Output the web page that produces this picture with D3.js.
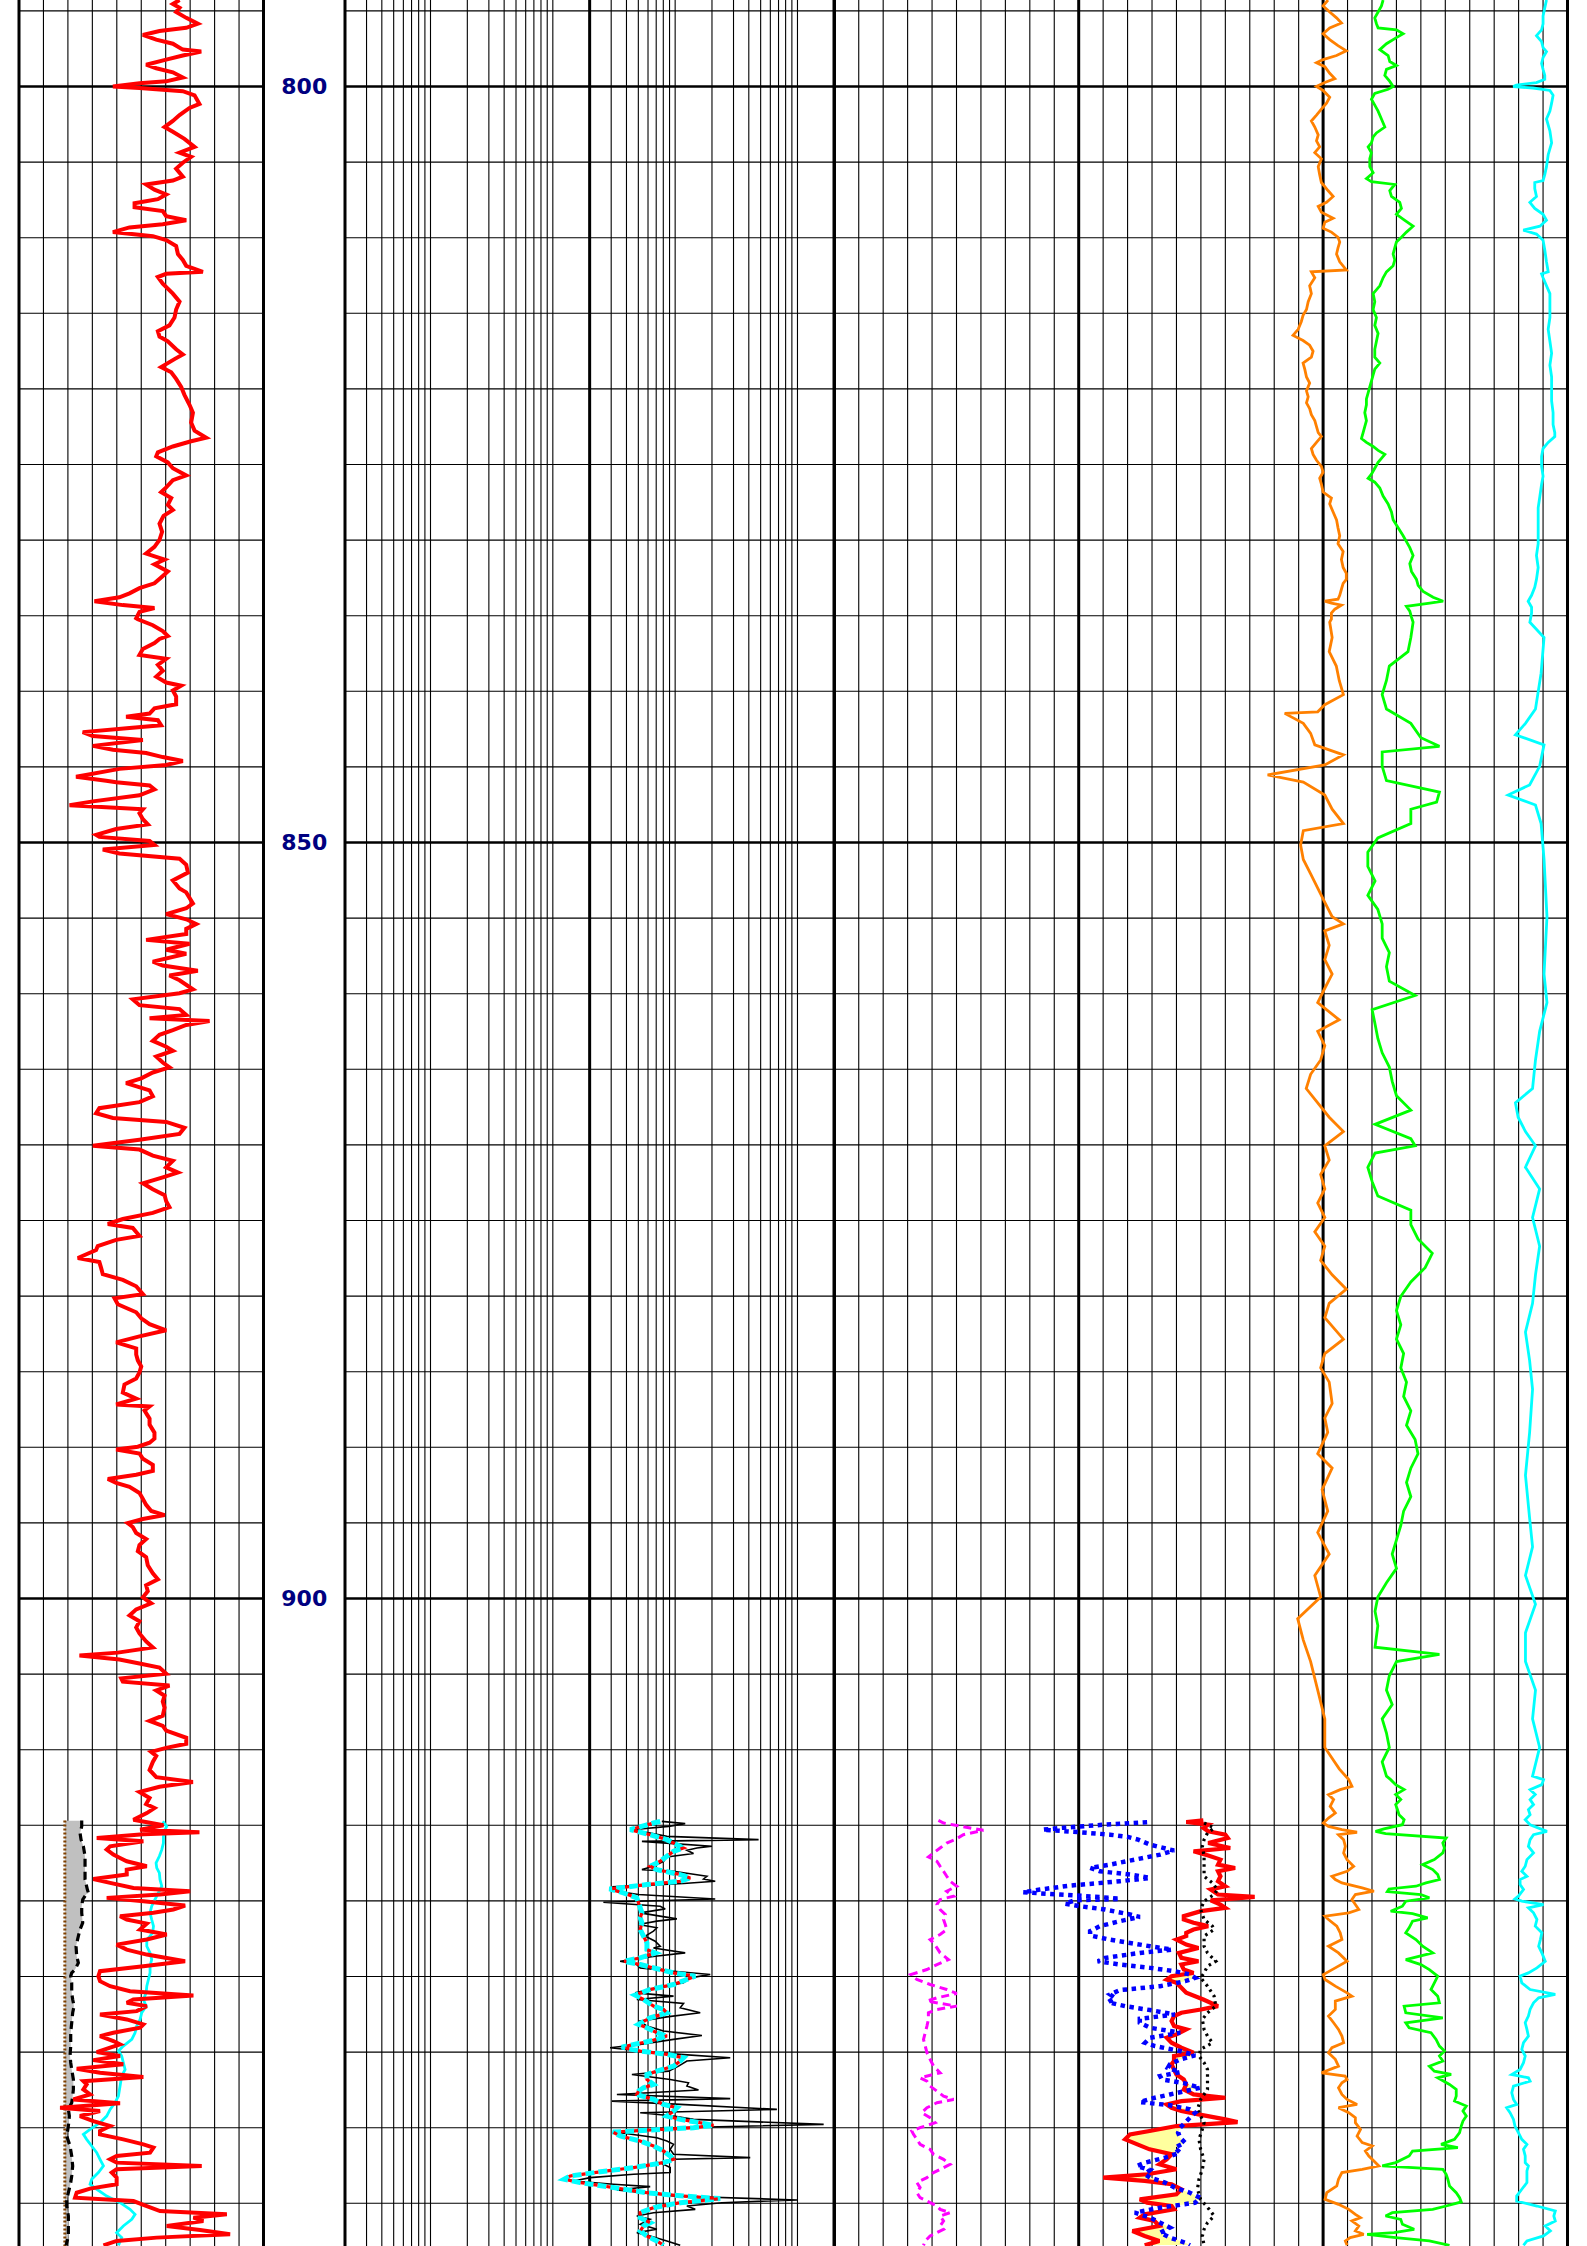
<!DOCTYPE html>
<html><head><meta charset="utf-8">
<script src="https://cdn.jsdelivr.net/npm/d3@7"></script>
<style>html,body{margin:0;padding:0;background:#fff;} svg{display:block;}</style>
</head><body><svg id="c" width="1587" height="2246"></svg>
<script>
// ---------------- DATA (depth m, value) ----------------
const depthLabels = [800, 850, 900];
// Track 1: gamma ray (API)
const grData = [[794.28,98.5],[794.54,94.4],[794.80,98.5],[795.07,96.4],[795.46,102.6],[795.85,109.7],[796.12,102.6],[796.33,86.2],[796.59,76.0],[796.90,84.2],[797.17,94.4],[797.56,100.5],[797.69,111.8],[797.95,100.5],[798.22,90.3],[798.56,78.0],[798.79,84.2],[799.06,94.4],[799.40,100.5],[799.66,90.3],[799.79,73.9],[800.00,57.6],[800.10,73.9],[800.31,100.5],[800.58,107.7],[801.15,110.7],[801.42,104.6],[801.89,98.5],[802.28,94.4],[802.68,89.3],[802.99,94.4],[803.46,101.5],[803.99,107.7],[804.38,98.5],[804.65,105.6],[805.04,100.5],[805.43,96.4],[805.96,100.5],[806.22,94.4],[806.48,78.0],[806.82,83.1],[807.14,90.3],[807.45,85.2],[807.72,70.9],[807.98,70.9],[808.24,88.2],[808.58,90.3],[808.85,102.6],[809.11,88.2],[809.32,67.8],[809.63,57.6],[809.90,82.1],[810.16,90.3],[810.55,96.4],[811.08,97.5],[811.47,100.5],[811.86,102.6],[812.26,112.8],[812.39,90.3],[812.60,85.2],[813.04,88.2],[813.70,94.4],[814.23,98.5],[814.75,96.4],[815.28,95.4],[815.80,92.3],[816.19,85.2],[816.54,86.2],[816.85,91.3],[817.38,96.4],[817.72,100.5],[818.03,95.4],[818.56,87.2],[818.90,93.4],[819.34,96.4],[819.87,99.5],[820.39,101.5],[821.05,104.6],[821.57,106.7],[822.23,105.6],[822.76,107.7],[823.23,114.8],[823.46,105.6],[823.81,94.4],[824.20,85.2],[824.46,84.2],[824.86,91.3],[825.25,94.4],[825.72,102.6],[826.04,94.4],[826.51,90.3],[826.83,87.2],[827.22,93.4],[827.67,91.3],[828.01,94.4],[828.40,88.7],[828.92,86.2],[829.45,87.8],[829.98,86.2],[830.45,83.1],[830.89,78.0],[831.29,89.3],[831.60,83.1],[832.07,91.3],[832.47,87.2],[832.86,83.1],[833.18,73.9],[833.52,67.8],[833.78,61.6],[834.04,46.3],[834.30,63.7],[834.49,83.1],[834.75,73.9],[835.17,71.9],
[835.24,72.9],[835.63,82.1],[836.02,88.2],[836.34,91.3],[836.54,86.2],[836.81,83.1],[837.20,76.0],[837.59,73.9],[837.85,90.3],[838.25,85.2],[838.64,88.2],[839.03,84.2],[839.42,90.3],[839.63,99.5],[839.95,94.4],[840.34,96.4],[840.86,96.4],[841.13,83.1],[841.47,80.1],[841.68,65.7],[841.91,85.2],[842.25,87.2],[842.43,67.8],[842.70,39.1],[842.96,45.3],[843.22,76.0],[843.61,45.3],[843.87,57.6],[844.08,78.0],[844.35,88.2],[844.61,100.5],[844.87,90.3],[845.13,61.6],[845.65,35.0],[845.92,53.5],[846.02,59.6],[846.23,80.1],[846.49,83.1],[846.88,73.9],[847.28,45.3],[847.54,31.0],[847.80,76.0],[848.06,73.9],[848.46,76.0],[848.80,79.0],[849.11,59.6],[849.50,47.3],[849.63,49.3],[849.90,80.1],[850.16,83.1],[850.47,51.4],[850.73,61.6],[851.07,98.5],[851.47,102.6],[851.99,103.6],[852.51,94.4],[853.04,98.5],[853.30,102.6],[854.03,106.7],[854.35,102.6],[854.74,90.3],[855.08,102.6],[855.39,108.7],[855.71,102.6],[856.05,102.6],[856.44,78.0],[856.70,104.6],[857.09,90.3],[857.36,102.6],[857.88,82.1],[858.14,88.2],[858.48,109.7],[858.80,92.3],[859.11,98.5],[859.71,106.7],[859.97,98.5],[860.37,69.8],[860.76,73.9],[861.02,98.5],[861.41,102.6],[861.62,80.1],[861.81,116.9],[862.07,102.6],[862.41,94.4],[862.72,86.2],[863.12,82.1],[863.51,90.3],[863.77,94.4],[864.16,84.2],[864.55,88.2],[864.87,92.3],[865.21,82.1],[865.60,75.0],[865.92,65.7],[866.39,80.1],[866.78,82.1],[867.17,73.9],[867.57,49.3],[867.91,47.3],[868.22,57.6],[868.48,90.3],[868.87,101.5],[869.27,98.5],[869.66,73.9],[870.05,45.3],[870.31,73.9],[870.71,82.1],[871.05,94.4],[871.49,90.3],[871.83,97.5],[872.15,88.2],[872.54,76.0],[872.93,82.1],[873.32,89.3],[873.72,90.3],[874.11,92.3],[874.50,82.1],[874.90,63.7],
[875.23,54.5],[875.49,69.8],[875.76,71.9],[876.02,73.9],[876.28,59.6],[876.69,48.3],[876.95,47.3],[877.48,36.1],[877.75,49.3],[878.15,50.4],[878.55,51.4],[878.93,63.7],[879.35,71.9],[879.87,76.0],[880.14,58.6],[880.54,60.6],[881.07,71.9],[881.47,75.0],[881.86,80.1],[882.26,90.3],[882.66,73.9],[883.06,59.6],[883.46,71.9],[883.86,71.9],[884.25,72.9],[884.65,75.0],[885.05,73.9],[885.45,71.9],[885.85,64.7],[886.38,63.7],[886.78,71.9],[887.17,59.6],[887.30,80.1],[887.57,77.0],[888.10,80.1],[888.50,80.1],[889.03,83.1],[889.43,83.1],[889.70,80.1],[889.96,72.9],[890.15,59.6],[890.41,73.9],[890.76,76.0],[891.16,82.1],[891.56,82.1],[891.82,71.9],[892.09,54.5],[892.35,59.6],[892.62,67.8],[893.02,73.9],[893.41,76.0],[893.81,78.0],[894.21,81.1],[894.48,89.3],[894.74,76.0],[895.01,66.7],[895.27,69.8],[895.67,71.9],[896.07,78.0],[896.47,73.9],[896.87,72.9],[897.27,78.0],[897.80,79.0],[898.33,82.1],[898.73,85.2],[899.12,78.0],[899.52,79.0],[899.92,76.0],[900.32,81.1],[900.72,71.9],[901.12,67.8],[901.51,73.9],[901.91,71.9],[902.31,73.9],[902.84,78.0],[903.24,82.1],[903.58,60.6],[903.77,37.1],[904.04,61.6],[904.30,73.9],[904.57,86.2],[904.97,90.3],[905.28,62.7],[905.50,63.7],[905.76,92.3],[906.08,84.2],[906.43,89.3],[906.82,88.2],[907.22,89.3],[907.75,88.2],[908.10,80.1],[908.42,88.2],[908.74,90.3],[909.21,102.6],[909.61,102.6],[909.88,90.3],[910.14,81.1],[910.41,84.2],[910.81,82.1],[911.34,80.1],[911.82,84.2],[912.13,106.7],[912.45,86.2],[912.80,73.9],[913.20,80.1],[913.60,78.0],[913.86,83.1],
[914.19,78.4],[914.63,70.2],[915.00,88.6],[915.30,74.3],[915.46,110.7],[915.60,76.3],[915.84,47.7],[916.06,76.3],[916.39,55.9],[916.60,53.8],[916.94,57.9],[917.16,62.0],[917.38,66.1],[917.71,78.4],[917.93,66.1],[918.26,66.1],[918.55,45.6],[918.81,55.9],[919.14,70.2],[919.36,105.0],[919.58,86.5],[919.80,53.8],[920.02,76.3],[920.31,101.9],[920.57,94.7],[920.79,82.5],[921.01,62.0],[921.23,66.1],[921.50,78.4],[921.89,74.3],[922.22,90.6],[922.55,78.4],[922.89,59.9],[923.22,66.1],[923.55,78.4],[923.99,101.9],[924.32,76.3],[924.65,49.7],[924.98,48.7],[925.31,49.7],[925.64,55.9],[925.97,68.1],[926.26,107.0],[926.52,70.2],[926.74,66.1],[926.96,78.4],[927.29,72.2],[927.51,49.7],[927.84,66.1],[928.17,76.3],[928.39,74.3],[928.72,57.9],[928.94,49.7],[929.27,57.9],[929.49,62.0],[929.71,55.9],[930.00,47.7],[930.26,62.0],[930.53,45.6],[930.81,64.0],[931.10,35.4],[931.37,49.7],[931.65,76.3],[931.92,39.5],[932.14,41.5],[932.47,39.5],[932.80,43.6],[933.13,33.3],[933.39,62.0],[933.68,25.2],[933.90,49.7],[934.23,37.4],[934.56,45.6],[934.89,55.9],[935.22,49.7],[935.44,49.7],[935.77,64.0],[936.10,76.3],[936.32,82.5],[936.65,80.4],[936.87,59.9],[937.09,55.9],[937.31,59.9],[937.53,112.1],[937.75,59.9],[937.97,56.9],[938.30,59.9],[938.74,59.9],[939.03,43.6],[939.30,35.4],[939.63,34.4],[939.85,70.2],[940.18,78.4],[940.51,86.5],[940.73,127.5],[940.95,107.0],[941.17,113.1],[941.50,90.6],[941.76,111.1],[942.05,129.5],[942.27,84.5],[942.49,59.9],[942.78,51.8]];
// Track 1: bit size and caliper (in)
const bsData = [[914.69,7.875],[942.82,7.875]];
const caliData = [[914.69,8.565],[915.07,8.565],[915.51,8.497],[915.95,8.538],[916.39,8.633],[917.05,8.701],[917.71,8.701],[918.59,8.701],[919.25,8.797],[919.47,8.838],[919.58,8.742],[919.91,8.606],[920.35,8.565],[920.79,8.565],[921.45,8.606],[921.89,8.497],[922.33,8.428],[923.00,8.333],[923.66,8.360],[924.10,8.428],[924.54,8.292],[924.76,8.156],[924.98,8.115],[925.42,8.156],[926.08,8.156],[926.52,8.196],[926.96,8.251],[927.40,8.196],[928.06,8.156],[928.72,8.115],[929.60,8.115],[930.26,8.087],[930.70,8.115],[931.15,8.156],[931.81,8.224],[932.47,8.224],[932.91,8.196],[933.35,8.156],[933.79,8.019],[934.23,8.060],[934.89,8.019],[935.55,7.951],[936.21,8.087],[936.87,8.156],[937.53,8.196],[938.19,8.156],[938.63,8.115],[939.30,8.019],[939.74,7.951],[940.18,7.951],[940.84,8.019],[941.50,8.019],[942.16,8.019],[942.78,7.924]];
// Track 1: computed gamma ray (API)
const cgrData = [[914.74,88.2],[915.07,90.6],[915.29,89.6],[915.73,88.6],[916.17,88.6],[916.61,87.6],[917.05,86.1],[917.49,84.1],[917.82,84.5],[918.15,86.1],[918.59,86.5],[919.03,87.6],[919.47,85.5],[919.69,84.5],[920.02,82.9],[920.35,81.4],[920.79,80.4],[921.23,81.4],[921.67,82.5],[922.11,82.0],[922.33,80.4],[922.56,78.4],[923.00,78.4],[923.44,80.4],[923.88,81.4],[924.32,80.4],[924.76,80.4],[925.20,79.4],[925.64,78.4],[926.08,78.0],[926.52,76.3],[926.96,78.0],[927.40,75.3],[927.84,74.3],[928.28,72.2],[928.72,71.2],[929.16,69.2],[929.60,64.0],[929.93,61.0],[930.26,63.0],[930.70,64.0],[931.15,65.1],[931.59,63.0],[932.25,62.0],[932.91,61.0],[933.35,58.9],[933.79,55.9],[934.23,53.8],[934.67,49.7],[935.11,43.6],[935.44,39.5],[935.77,41.5],[936.21,44.6],[936.65,47.7],[937.09,49.7],[937.53,51.8],[937.97,48.7],[938.41,44.6],[938.74,43.6],[939.07,47.7],[939.52,53.8],[939.96,62.0],[940.40,68.1],[940.73,71.2],[941.06,69.2],[941.50,64.0],[941.94,59.9],[942.27,63.0],[942.78,61.0]];
// Track 2: resistivity (ohm.m) - deep/medium (overlapping) and micro
const resDeep = [[914.74,75.5],[914.85,66.5],[915.29,42.9],[915.62,62.5],[915.95,85.6],[916.28,103.3],[916.50,117.1],[916.72,97],[917.05,85.6],[917.38,75.5],[917.71,62.5],[917.93,70.9],[918.26,110],[918.48,132.7],[918.70,110],[918.92,58.8],[919.21,29.0],[919.47,37.8],[919.80,48.6],[920.13,50.2],[920.46,51.8],[920.79,53.5],[921.12,51.8],[921.45,53.5],[921.89,51.8],[922.33,55.1],[922.78,58.8],[923.22,58.8],[923.44,68.7],[923.77,51.8],[923.99,38.3],[924.21,51.8],[924.54,75.5],[924.76,97],[924.98,145.9],[925.20,124.7],[925.53,97],[925.86,62.5],[926.23,47.1],[926.52,55.1],[926.96,66.5],[927.18,80.4],[927.40,85.6],[927.73,62.5],[928.17,50.2],[928.39,58.8],[928.72,70.9],[928.94,85.6],[929.27,62.5],[929.67,36.6],[929.93,51.8],[930.15,85.6],[930.37,117.1],[930.59,110],[930.93,97],[931.26,70.9],[931.48,58.8],[931.81,58.8],[932.14,66.5],[932.36,55.1],[932.58,50.2],[932.80,48.6],[933.13,66.5],[933.46,80.4],[933.68,103.3],[933.90,97],[934.23,85.6],[934.45,110],[934.67,160.3],[934.85,205.8],[935.00,141.3],[935.29,31.0],[935.55,35.5],[935.88,51.8],[936.21,66.5],[936.54,80.4],[936.87,91.1],[937.09,97],[937.31,80.4],[937.64,45.7],[937.86,27.6],[938.19,13.9],[938.41,12.4],[938.63,16.7],[938.96,31.3],[939.30,58.8],[939.52,117.1],[939.69,233.6],[939.96,110],[940.29,66.5],[940.62,51.8],[940.95,51.8],[941.28,62.5],[941.50,55.1],[941.83,51.8],[942.16,58.8],[942.49,70.9],[942.78,80.4]];
const resMicro = [[914.74,77.8],[914.89,120.8],[915.07,88.3],[915.29,44.3],[915.51,62.5],[915.73,85.6],[915.95,481],[916.06,53.5],[916.21,97],[916.39,199.8],[916.50,150.7],[916.65,124.7],[916.87,141.3],[917.09,85.6],[917.38,80.4],[917.71,66.5],[917.93,53.5],[918.04,97],[918.37,181.9],[918.55,170.6],[918.70,212.6],[918.85,117.1],[919.07,31.3],[919.36,33.4],[919.58,50.2],[919.87,212.6],[920.09,25.9],[920.35,75.5],[920.53,82.9],[920.79,51.8],[921.19,103.3],[921.34,70.9],[921.56,50.2],[921.78,70.9],[922.00,66.5],[922.33,57.0],[922.67,68.7],[923.00,75.5],[923.11,66.5],[923.44,120.8],[923.66,68.7],[923.99,35.5],[924.21,48.6],[924.43,51.8],[924.65,97],[924.87,193.6],[925.09,132.7],[925.42,117.1],[925.75,70.9],[926.08,47.1],[926.30,97],[926.52,48.6],[926.78,117.1],[927.07,110],[927.40,160.3],[927.67,85.6],[927.95,51.8],[928.28,58.8],[928.61,80.4],[928.90,165.5],[929.16,97],[929.49,51.8],[929.71,29.4],[929.93,51.8],[930.15,110],[930.37,282],[930.59,124.7],[930.93,106.6],[931.26,88.3],[931.48,44.3],[931.81,91.1],[932.03,128.6],[932.25,124.7],[932.51,155.2],[932.80,33.4],[933.08,282],[933.24,30.4],[933.46,110],[933.79,679],[934.01,51.8],[934.23,97],[934.45,141.3],[934.78,1637],[935.00,97],[935.33,35.5],[935.66,70.9],[935.88,85.6],[936.10,97],[936.43,91.1],[936.76,97],[936.98,411],[937.09,97],[937.31,75.5],[937.64,91.1],[937.97,91.1],[938.08,45.7],[938.30,20.2],[938.52,14.8],[938.74,31.3],[938.90,62.5],[939.12,33.4],[939.52,97],[939.78,991],[939.96,241.1],[940.18,124.7],[940.40,145.9],[940.62,66.5],[940.84,48.6],[941.06,62.5],[941.39,51.8],[941.72,70.9],[941.94,48.6],[942.16,62.5],[942.49,85.6],[942.78,110]];
// Track 3 / section 1: sonic (us/ft)
const dtData = [[914.67,97.4],[914.85,95.3],[915.18,84.4],[915.33,79.0],[915.62,87.2],[915.95,90.6],[916.17,94.0],[916.50,96.7],[916.83,99.4],[917.09,101.5],[917.38,98.0],[917.71,96.7],[918.04,95.3],[918.37,94.0],[918.70,92.6],[919.03,89.9],[919.36,94.0],[919.69,91.2],[919.91,96.7],[920.24,98.0],[920.57,96.7],[920.90,94.6],[921.23,95.3],[921.56,94.6],[921.89,94.0],[922.22,96.7],[922.56,100.8],[922.78,99.4],[923.11,98.0],[923.44,96.7],[923.88,93.3],[924.21,98.0],[924.54,102.1],[924.87,108.7],[925.20,106.2],[925.53,100.8],[925.86,94.0],[926.12,89.9],[926.41,98.0],[926.63,102.1],[926.96,89.9],[927.18,98.0],[927.40,101.5],[927.84,101.5],[928.28,102.1],[928.72,102.8],[929.16,103.5],[929.60,102.8],[930.04,102.1],[930.48,100.8],[930.93,99.4],[931.37,96.7],[931.70,104.9],[931.92,102.1],[932.25,100.8],[932.58,98.0],[932.91,95.3],[933.13,91.2],[933.35,98.0],[933.68,102.1],[934.01,104.2],[934.34,100.8],[934.67,98.7],[935.00,104.9],[935.22,108.3],[935.44,107.6],[935.77,106.2],[936.10,104.9],[936.43,100.8],[936.76,99.4],[937.09,95.3],[937.42,92.6],[937.64,95.3],[937.97,99.4],[938.30,102.1],[938.63,106.2],[938.96,104.9],[939.30,106.2],[939.63,104.9],[939.85,102.1],[940.18,98.0],[940.40,96.7],[940.62,92.6],[940.84,96.7],[941.17,95.3],[941.50,96.7],[941.72,95.3],[941.94,98.0],[942.16,100.8],[942.49,102.8],[942.78,103.5]];
// Track 3 / section 2: neutron porosity (v/v), bulk density (g/cc), photoelectric factor
const nphiData = [[914.80,0.282],[914.98,0.398],[915.18,0.496],[915.29,0.538],[915.46,0.447],[915.62,0.373],[915.77,0.329],[915.95,0.304],[916.28,0.275],[916.67,0.216],[916.94,0.250],[917.27,0.312],[917.60,0.373],[917.82,0.422],[918.04,0.398],[918.26,0.324],[918.48,0.275],[918.70,0.349],[918.99,0.471],[919.25,0.545],[919.43,0.587],[919.58,0.496],[919.74,0.398],[919.87,0.349],[919.96,0.459],[920.18,0.484],[920.35,0.447],[920.57,0.385],[920.90,0.324],[921.06,0.300],[921.34,0.349],[921.67,0.398],[922.00,0.422],[922.29,0.422],[922.56,0.373],[922.78,0.324],[923.00,0.275],[923.22,0.221],[923.44,0.300],[923.77,0.385],[923.99,0.403],[924.21,0.349],[924.43,0.275],[924.65,0.214],[924.87,0.177],[925.09,0.164],[925.31,0.189],[925.64,0.250],[925.90,0.349],[926.19,0.373],[926.41,0.361],[926.70,0.378],[926.96,0.336],[927.22,0.275],[927.51,0.214],[927.80,0.300],[928.06,0.300],[928.39,0.275],[928.72,0.201],[929.05,0.275],[929.38,0.287],[929.60,0.263],[929.93,0.201],[930.22,0.164],[930.48,0.201],[930.81,0.226],[931.04,0.231],[931.32,0.201],[931.59,0.250],[931.81,0.246],[932.07,0.189],[932.36,0.152],[932.58,0.189],[932.80,0.226],[933.02,0.263],[933.30,0.300],[933.52,0.226],[933.79,0.177],[934.01,0.164],[934.34,0.177],[934.67,0.189],[935.00,0.201],[935.33,0.206],[935.66,0.201],[935.99,0.189],[936.32,0.214],[936.65,0.201],[936.98,0.238],[937.31,0.287],[937.53,0.307],[937.80,0.275],[938.08,0.287],[938.30,0.275],[938.63,0.238],[938.96,0.214],[939.30,0.177],[939.63,0.152],[939.96,0.164],[940.29,0.250],[940.62,0.312],[940.95,0.275],[941.28,0.250],[941.61,0.226],[941.94,0.250],[942.27,0.226],[942.60,0.189],[942.78,0.177]];
const rhobData = [[914.67,2.46],[914.78,2.39],[914.96,2.48],[915.18,2.46],[915.40,2.48],[915.62,2.55],[915.84,2.56],[916.17,2.48],[916.50,2.57],[916.72,2.42],[917.00,2.48],[917.27,2.53],[917.60,2.52],[917.82,2.59],[918.04,2.52],[918.37,2.53],[918.70,2.52],[919.03,2.55],[919.25,2.49],[919.58,2.52],[919.74,2.67],[919.96,2.49],[920.24,2.53],[920.46,2.55],[920.68,2.45],[921.01,2.38],[921.23,2.38],[921.45,2.42],[921.67,2.48],[921.89,2.42],[922.11,2.39],[922.33,2.39],[922.56,2.35],[922.89,2.39],[923.11,2.44],[923.44,2.36],[923.77,2.37],[923.99,2.44],[924.21,2.37],[924.54,2.38],[924.76,2.42],[924.98,2.33],[925.20,2.31],[925.42,2.35],[925.75,2.37],[926.08,2.39],[926.52,2.46],[926.96,2.52],[927.18,2.45],[927.40,2.37],[927.62,2.34],[927.95,2.33],[928.28,2.34],[928.50,2.39],[928.83,2.35],[929.05,2.31],[929.38,2.33],[929.71,2.37],[930.04,2.42],[930.26,2.34],[930.59,2.34],[930.81,2.33],[931.15,2.34],[931.48,2.35],[931.81,2.38],[932.14,2.39],[932.47,2.38],[932.80,2.42],[933.02,2.55],[933.24,2.37],[933.46,2.31],[933.68,2.33],[933.90,2.37],[934.12,2.44],[934.45,2.55],[934.63,2.60],[934.89,2.35],[935.22,2.24],[935.44,2.16],[935.77,2.14],[936.10,2.19],[936.43,2.24],[936.76,2.33],[937.09,2.31],[937.42,2.28],[937.75,2.35],[938.08,2.23],[938.30,2.05],[938.52,2.22],[938.74,2.33],[939.07,2.37],[939.41,2.35],[939.74,2.20],[939.96,2.23],[940.18,2.33],[940.40,2.34],[940.73,2.22],[940.95,2.20],[941.17,2.26],[941.50,2.28],[941.83,2.17],[942.16,2.22],[942.49,2.28],[942.78,2.22]];
const peData = [[914.85,5.13],[915.18,5.54],[915.51,5.27],[915.95,5.13],[916.39,5.06],[917.05,5.13],[917.71,5.13],[918.37,5.13],[918.81,5.47],[919.25,5.68],[919.58,5.54],[920.02,5.13],[920.57,4.99],[921.23,5.13],[921.67,5.47],[921.89,5.54],[922.33,5.13],[923.00,5.13],[923.44,5.27],[923.99,5.61],[924.32,5.27],[924.76,5.13],[925.09,4.99],[925.64,5.27],[926.30,5.54],[926.96,5.61],[927.40,5.27],[927.84,5.06],[928.50,5.13],[928.94,5.27],[929.38,5.47],[929.82,4.99],[930.26,4.92],[930.70,5.13],[931.15,5.27],[931.81,5.27],[932.47,5.27],[933.13,4.99],[933.79,4.86],[934.23,4.99],[934.67,5.13],[935.11,5.06],[935.77,4.92],[936.43,4.99],[937.09,5.13],[937.75,5.06],[938.41,4.92],[939.07,4.86],[939.74,4.99],[940.40,5.34],[940.84,5.54],[941.28,5.27],[941.72,5.13],[942.16,5.06],[942.78,5.13]];
// Track 3 / section 3: SP (mV), thorium (ppm), uranium (ppm)
const spData = [[794.28,-98.0],[794.67,-100.0],[795.07,-97.3],[795.46,-94.5],[795.80,-92.5],[796.12,-97.3],[796.51,-100.0],[796.90,-97.3],[797.30,-93.9],[797.64,-90.5],[797.95,-94.5],[798.22,-100.0],[798.43,-102.7],[798.69,-99.3],[799.13,-97.3],[799.48,-95.2],[799.74,-99.3],[800.00,-102.7],[800.26,-100.0],[800.71,-97.3],[801.10,-98.6],[801.50,-100.7],[801.89,-102.7],[802.28,-104.8],[802.68,-103.4],[803.20,-102.0],[803.60,-102.7],[803.99,-101.4],[804.38,-103.4],[804.78,-100.7],[805.30,-102.0],[805.83,-101.4],[806.35,-100.7],[806.88,-98.0],[807.27,-95.9],[807.66,-98.6],[807.93,-102.0],[808.32,-100.7],[808.71,-95.9],[808.98,-99.3],[809.37,-100.0],[809.63,-96.6],[809.97,-93.9],[810.29,-93.2],[810.68,-93.9],[811.08,-94.5],[811.60,-93.2],[812.13,-90.5],[812.26,-104.8],[812.65,-103.4],[813.18,-105.5],[813.70,-104.8],[814.23,-106.1],[814.75,-106.8],[815.14,-108.2],[815.54,-108.9],[816.06,-110.2],[816.46,-112.3],[816.80,-108.2],[817.11,-105.5],[817.51,-104.1],[817.90,-104.8],[818.29,-108.2],[818.69,-107.5],[819.21,-106.8],[819.61,-105.5],[820.13,-106.8],[820.52,-106.1],[820.92,-106.8],[821.31,-105.5],[821.71,-104.8],[822.10,-103.4],[822.49,-102.7],[822.89,-102.0],[823.15,-100.7],[823.54,-102.7],[823.94,-104.8],[824.33,-104.1],[824.72,-102.7],[825.12,-100.7],[825.51,-100.0],[825.91,-101.4],[826.30,-100.7],[826.82,-100.0],[827.22,-96.6],[827.61,-97.3],[828.14,-95.9],[828.66,-94.5],[829.19,-93.9],[829.71,-93.2],[830.24,-93.9],[830.76,-91.8],[831.29,-92.5],[831.81,-91.8],[832.20,-90.5],[832.60,-90.5],[832.86,-91.8],[833.25,-92.5],[833.65,-93.2],[833.91,-93.9],[834.04,-99.3],[834.17,-96.6],[834.30,-92.5],[834.57,-95.2],[834.83,-96.6],[835.22,-96.6],[835.43,-97.3],
[836.44,-96.3],[837.38,-97.5],[838.33,-94.6],[839.28,-93.4],[840.22,-91.7],[840.89,-99.3],[841.36,-102.2],[841.46,-115.7],[842.12,-108.1],[842.78,-105.1],[843.54,-103.4],[844.20,-91.7],[844.87,-99.3],[845.53,-122.7],[846.00,-108.1],[846.86,-99.3],[847.80,-96.3],[848.75,-91.7],[849.22,-108.1],[850.17,-109.2],[851.12,-108.1],[852.07,-105.1],[853.01,-102.2],[853.96,-99.3],[854.91,-96.3],[855.38,-91.7],[855.85,-99.3],[856.80,-97.5],[857.75,-99.3],[858.70,-96.3],[859.64,-99.3],[860.59,-102.2],[861.73,-93.4],[862.49,-102.2],[863.43,-99.3],[864.38,-101.0],[865.33,-105.1],[866.27,-106.9],[867.22,-102.2],[868.17,-97.5],[869.12,-91.7],[870.06,-99.3],[871.01,-97.5],[871.96,-101.0],[872.91,-99.3],[873.85,-102.2],[874.80,-99.3],[875.75,-103.4],[876.70,-99.3],[877.64,-101.0],[878.59,-96.3],[879.54,-90.5],[880.48,-97.5],[881.43,-99.3],[882.85,-91.7],[883.80,-99.3],[884.75,-101.0],[885.69,-97.5],[887.11,-96.3],[888.06,-99.3],[889.01,-98.1],[890.43,-102.2],[891.38,-96.3],[892.80,-100.4],[894.22,-98.1],[895.64,-102.2],[897.06,-97.5],[898.48,-103.4],[899.90,-101.0],[901.33,-110.4],[902.75,-108.1],[904.17,-105.1],[906.06,-102.2],[907.96,-99.3],[909.85,-99.3],[911.27,-93.4],
[911.98,-89.5],[912.42,-88.2],[912.64,-93.0],[912.97,-97.8],[913.30,-95.7],[913.74,-97.1],[914.19,-95.0],[914.52,-97.8],[914.85,-99.9],[915.07,-97.8],[915.29,-92.3],[915.46,-86.1],[915.62,-93.7],[915.95,-91.6],[916.39,-90.9],[916.83,-91.6],[917.27,-90.2],[917.71,-87.5],[918.04,-90.2],[918.37,-96.4],[918.59,-95.0],[918.81,-92.3],[919.14,-84.0],[919.36,-79.2],[919.58,-86.8],[919.91,-88.2],[920.24,-86.8],[920.57,-85.4],[920.79,-89.5],[921.01,-99.2],[921.23,-97.8],[921.67,-94.4],[922.11,-93.0],[922.56,-92.3],[923.00,-97.8],[923.44,-93.7],[923.99,-90.2],[924.43,-95.0],[924.87,-99.9],[925.20,-99.2],[925.64,-95.0],[926.08,-90.2],[926.30,-88.2],[926.63,-95.0],[927.18,-95.0],[927.62,-97.8],[928.06,-95.7],[928.50,-93.7],[928.94,-92.3],[929.38,-91.6],[929.71,-96.4],[930.04,-97.8],[930.48,-95.0],[930.93,-93.7],[931.37,-100.6],[931.59,-91.0],[931.81,-90.2],[932.03,-92.3],[932.36,-93.7],[932.80,-92.3],[933.13,-90.2],[933.46,-86.1],[933.68,-93.7],[934.01,-89.5],[934.34,-86.8],[934.67,-86.8],[935.11,-84.7],[935.55,-86.1],[935.99,-84.0],[936.21,-79.9],[936.54,-82.7],[936.87,-81.3],[937.20,-79.2],[937.53,-77.2],[937.75,-84.0],[937.97,-92.3],[938.41,-93.7],[938.85,-94.4],[939.30,-98.5],[939.74,-99.2],[940.07,-93.7],[940.40,-89.5],[940.73,-86.8],[940.95,-84.7],[941.17,-88.2],[941.50,-85.4],[941.83,-86.8],[942.05,-83.4],[942.27,-88.9],[942.49,-90.9],[942.78,-90.2]];
const thData = [[794.28,9.82],[794.67,9.55],[795.07,9.0],[795.46,8.46],[795.85,8.73],[796.12,9.0],[796.25,12.0],[796.51,13.1],[796.77,12.0],[797.17,10.37],[797.56,9.28],[797.95,10.64],[798.35,10.91],[798.61,12.0],[798.87,10.37],[799.27,10.1],[799.66,10.91],[800.00,11.46],[800.18,10.64],[800.45,8.46],[800.84,7.91],[801.23,8.46],[801.63,9.0],[802.15,9.55],[802.68,10.1],[803.07,8.73],[803.33,8.19],[803.73,7.91],[803.99,7.37],[804.38,7.91],[804.78,7.64],[805.30,7.64],[805.70,8.19],[806.09,7.09],[806.30,7.91],[806.48,11.73],[806.88,10.91],[807.27,11.19],[807.66,12.55],[808.06,12.82],[808.45,12.0],[808.85,13.37],[809.24,14.73],[809.63,13.64],[809.97,12.82],[810.29,12.0],[810.68,11.73],[811.08,11.46],[811.47,11.73],[811.86,11.46],[812.26,10.37],[812.65,9.82],[813.18,9.28],[813.70,8.19],[814.23,8.46],[814.75,8.19],[815.28,8.73],[815.80,8.46],[816.33,9.0],[816.85,8.73],[817.38,8.46],[817.90,8.46],[818.29,9.28],[818.69,8.46],[819.08,8.19],[819.48,7.91],[819.87,7.64],[820.26,7.37],[820.66,7.09],[821.05,7.09],[821.57,6.82],[822.10,7.09],[822.49,6.82],[822.89,6.55],[823.28,6.28],[823.54,7.09],[823.81,8.19],[824.07,9.0],[824.33,10.1],[824.59,9.55],[824.86,9.0],[825.25,8.46],[825.64,7.91],[825.91,7.37],[826.17,8.46],[826.56,9.28],[827.09,9.82],[827.61,10.64],[828.14,11.19],[828.66,11.46],[829.19,12.28],[829.71,13.1],[830.10,13.64],[830.50,14.19],[831.02,14.73],[831.55,14.19],[832.07,14.46],[832.60,15.28],[832.99,15.55],[833.39,16.37],[833.78,18.0],[834.04,19.65],[834.17,17.46],[834.38,13.64],[834.70,14.19],[835.09,14.46],[835.43,14.73],
[836.44,14.36],[837.38,13.89],[838.33,10.84],[839.28,10.37],[840.22,9.67],[841.17,10.37],[842.12,14.36],[843.07,16.0],[843.64,19.04],[844.01,9.67],[844.96,9.67],[845.91,10.37],[846.67,19.04],[847.33,18.58],[847.80,14.36],[848.75,14.36],[849.70,8.96],[850.64,7.32],[851.59,7.32],[852.54,8.50],[853.49,7.32],[854.43,8.96],[855.38,9.67],[856.33,9.67],[857.28,10.84],[858.22,10.37],[859.17,10.84],[860.12,15.06],[861.06,8.03],[862.01,8.50],[862.96,8.96],[863.91,9.67],[864.85,10.84],[865.80,11.31],[866.75,12.01],[867.70,14.36],[868.64,8.50],[869.59,14.36],[870.06,15.06],[870.54,8.50],[871.48,7.32],[872.43,8.03],[873.38,8.96],[874.32,14.36],[875.27,14.36],[876.22,15.53],[877.17,17.87],[878.12,16.7],[879.06,14.36],[880.01,12.72],[880.96,12.01],[881.90,12.72],[882.85,12.01],[883.80,13.18],[884.75,12.72],[885.69,13.65],[886.64,13.18],[887.59,14.36],[888.54,13.65],[889.48,15.06],[890.43,15.53],[891.38,14.36],[892.33,13.65],[893.27,14.36],[894.22,13.18],[895.17,12.72],[896.12,12.01],[897.06,11.31],[898.01,12.01],[898.96,10.37],[899.90,8.96],[900.85,8.50],[901.80,8.96],[903.22,8.50],[903.69,19.04],[904.17,12.01],[905.11,10.84],[906.06,10.37],[907.01,11.31],[907.96,9.67],[908.90,10.37],[909.85,10.84],[910.80,9.67],[911.75,10.37],
[911.98,11.06],[912.31,11.88],[912.64,13.26],[912.97,11.88],[913.30,12.71],[913.63,11.88],[913.96,12.16],[914.30,12.43],[914.63,13.26],[914.96,12.98],[915.24,9.96],[915.40,8.58],[915.55,10.23],[915.84,20.14],[916.17,19.59],[916.50,19.86],[916.83,19.59],[917.27,18.21],[917.60,16.29],[917.93,17.94],[918.26,18.76],[918.59,19.04],[918.81,16.84],[919.03,15.19],[919.21,10.78],[919.38,10.51],[919.58,16.01],[919.80,17.39],[920.02,13.53],[920.35,12.98],[920.68,11.06],[920.84,14.64],[921.12,17.11],[921.34,14.64],[921.78,14.08],[922.11,13.53],[922.56,15.19],[923.00,16.29],[923.44,17.94],[923.88,13.53],[924.21,16.01],[924.54,17.39],[924.98,18.76],[925.42,18.21],[925.86,17.66],[926.30,18.76],[926.74,19.04],[926.96,13.26],[927.40,13.53],[927.73,19.59],[928.06,13.53],[928.39,14.08],[928.72,17.66],[929.16,18.49],[929.60,19.04],[929.93,19.86],[930.26,19.04],[930.59,19.59],[930.93,17.39],[931.26,18.21],[931.48,20.96],[931.70,18.76],[932.14,20.69],[932.47,21.79],[932.91,21.79],[933.24,21.51],[933.57,23.44],[933.90,22.89],[934.23,23.44],[934.56,22.89],[934.89,22.61],[935.33,22.34],[935.77,21.51],[936.10,19.31],[936.32,22.06],[936.54,14.64],[936.87,14.08],[937.31,11.88],[937.53,9.68],[937.75,19.59],[938.08,20.14],[938.41,20.41],[938.85,20.69],[939.30,21.79],[939.63,22.34],[939.91,22.61],[940.18,20.14],[940.40,17.94],[940.62,11.33],[940.84,10.23],[941.06,12.71],[941.39,12.98],[941.72,14.91],[941.94,11.61],[942.05,7.2],[942.27,11.88],[942.49,17.39],[942.78,20.69]];
const uData = [[794.28,9.14],[794.80,9.07],[795.33,9.0],[795.85,9.0],[796.25,8.94],[796.64,8.73],[797.03,8.94],[797.43,9.0],[797.69,9.14],[798.08,9.0],[798.48,8.94],[798.87,9.0],[799.27,9.07],[799.53,9.07],[799.74,8.73],[799.90,7.91],[800.00,7.78],[800.10,8.59],[800.26,9.28],[800.58,9.41],[801.10,9.35],[801.63,9.28],[802.15,9.14],[802.94,9.28],[803.73,9.35],[804.51,9.21],[805.30,9.14],[805.83,9.07],[806.22,9.0],[806.35,8.66],[806.75,8.66],[807.27,8.73],[807.66,8.46],[808.06,8.66],[808.45,9.0],[808.85,9.14],[809.24,8.87],[809.50,8.19],[809.76,8.73],[810.16,9.0],[810.81,9.07],[811.60,9.14],[812.26,9.21],[812.39,8.94],[812.65,9.0],[813.18,9.14],[813.70,9.28],[814.49,9.28],[815.28,9.28],[816.06,9.21],[816.85,9.28],[817.64,9.35],[818.43,9.28],[819.21,9.35],[820.00,9.35],[820.79,9.35],[821.57,9.41],[822.36,9.41],[822.89,9.48],[823.15,9.48],[823.54,9.21],[823.94,9.0],[824.46,8.94],[825.12,8.94],[825.77,9.0],[826.30,8.94],[827.09,8.87],[827.87,8.80],[828.66,8.80],[829.45,8.80],[830.24,8.80],[831.02,8.73],[831.81,8.80],[832.60,8.73],[833.12,8.66],[833.65,8.53],[834.04,8.39],[834.44,8.53],[834.83,8.53],[835.43,8.46],
[836.44,9.04],[838.80,8.92],[841.17,8.69],[842.12,8.28],[842.88,7.87],[843.54,9.04],[844.96,8.86],[846.19,8.45],[846.86,7.57],[847.52,8.69],[848.75,8.92],[851.12,9.04],[854.91,9.16],[858.70,9.04],[860.59,9.16],[862.49,8.86],[864.38,8.69],[866.27,8.57],[867.22,7.87],[868.17,7.98],[869.12,8.28],[870.06,8.69],[871.48,8.28],[872.91,8.86],[874.80,8.57],[876.70,8.86],[878.59,8.69],[880.48,8.57],[882.38,8.28],[884.27,8.45],[886.17,8.57],[889.01,8.45],[891.85,8.28],[894.69,8.45],[896.59,8.57],[898.48,8.28],[900.38,8.69],[902.27,8.28],[904.17,8.28],[906.06,8.69],[907.96,8.57],[909.85,8.86],[911.75,8.57],
[911.98,9.02],[912.31,8.95],[912.64,8.47],[912.97,8.68],[913.30,8.47],[913.63,8.61],[913.96,8.40],[914.30,8.47],[914.63,8.27],[914.96,8.47],[915.40,9.16],[915.62,8.61],[915.95,8.47],[916.39,8.40],[916.83,8.61],[917.27,8.34],[917.71,8.27],[918.04,8.13],[918.37,8.34],[918.59,8.06],[918.92,8.06],[919.25,8.20],[919.69,7.99],[919.87,7.85],[920.02,8.13],[920.24,9.02],[920.46,8.40],[920.79,8.61],[921.23,8.75],[921.67,8.68],[922.11,8.95],[922.56,8.89],[923.00,8.82],[923.44,8.95],[923.99,9.09],[924.43,8.75],[924.76,8.40],[924.98,8.06],[925.42,8.13],[925.86,8.47],[926.19,9.50],[926.41,8.82],[926.74,8.61],[927.18,8.47],[927.62,8.40],[928.06,8.27],[928.50,8.34],[928.94,8.40],[929.38,8.20],[929.82,8.13],[930.26,8.27],[930.70,8.20],[931.15,8.06],[931.48,7.72],[931.70,8.40],[931.92,8.47],[932.25,7.79],[932.69,7.72],[933.13,7.79],[933.46,7.92],[933.68,7.51],[934.01,7.65],[934.45,7.79],[934.89,7.85],[935.33,7.99],[935.77,8.13],[936.10,8.34],[936.43,8.20],[936.87,8.27],[937.31,8.27],[937.53,8.40],[937.86,8.34],[938.19,8.34],[938.63,8.34],[939.07,8.13],[939.52,7.92],[939.85,7.92],[940.18,8.75],[940.51,9.50],[940.84,9.44],[941.17,9.50],[941.50,9.09],[941.83,9.30],[942.16,9.02],[942.49,8.34],[942.78,8.20]];

// ---------------- LAYOUT / SCALES ----------------
const W = 1587, H = 2246;
const svg = d3.select("#c");
svg.append("rect").attr("width", W).attr("height", H).attr("fill", "#fff");
const y = d3.scaleLinear().domain([800, 900]).range([86.5, 1598.5]);
const T1 = [19, 263.5], T2 = [345, 834.3], T3 = [834.3, 1567.5];
const S1 = [834.3, 1078.7], S2 = [1078.7, 1323.1], S3 = [1323.1, 1567.5];
const xGR = d3.scaleLinear().domain([0, 150]).range(T1);
const xCALI = d3.scaleLinear().domain([6, 16]).range(T1);
const xRes = d3.scaleLog().domain([0.2, 2000]).range(T2);
const xT3 = d3.scaleLinear().domain([0, 30]).range(T3);
const xDT = d3.scaleLinear().domain([140, 40]).range(S1);
const xNPHI = d3.scaleLinear().domain([0.45, -0.15]).range(S2);
const xRHOB = d3.scaleLinear().domain([1.95, 2.95]).range(S2);
const xPE = d3.scaleLinear().domain([0, 10]).range(S2);
const xSP = d3.scaleLinear().domain([-100, 0]).range(S3);
const xTH = d3.scaleLinear().domain([0, 40]).range(S3);
const xU = d3.scaleLinear().domain([0, 10]).range(S3);

// ---------------- GRID ----------------
const grid = svg.append("g");
const dTop = y.invert(0), dBot = y.invert(H);
const hDepths = d3.range(Math.ceil(dTop / 5) * 5, dBot, 5);
[T1, T2, T3].forEach(t => {
  grid.selectAll(null).data(hDepths).join("line")
    .attr("x1", t[0]).attr("x2", t[1])
    .attr("y1", d => y(d)).attr("y2", d => y(d))
    .attr("stroke", "#000")
    .attr("stroke-width", d => d % 50 === 0 ? 2.6 : 1.1);
});
function vlines(xs) {
  grid.selectAll(null).data(xs).join("line")
    .attr("x1", d => d.x).attr("x2", d => d.x).attr("y1", 0).attr("y2", H)
    .attr("stroke", "#000").attr("stroke-width", d => d.thick ? 3 : 1.1);
}
vlines(d3.range(0, 151, 15).map(v => ({x: xGR(v), thick: v === 0 || v === 150})));
const logTicks = [];
[0.1, 1, 10, 100, 1000].forEach(k => d3.range(1, 10).forEach(m => {
  const v = +(m * k).toPrecision(3);
  if (v >= 0.2 && v <= 2000) logTicks.push(v);
}));
logTicks.push(2000);
vlines(logTicks.map(v => ({x: xRes(v), thick: v === 0.2 || v === 20 || v === 2000})));
vlines(d3.range(0, 31).map(k => ({x: xT3(k), thick: k % 10 === 0})));

// depth labels
svg.append("g").selectAll("text").data(depthLabels).join("text")
  .attr("x", (T1[1] + T2[0]) / 2).attr("y", d => y(d))
  .attr("text-anchor", "middle").attr("dominant-baseline", "central")
  .attr("font-family", "DejaVu Sans, sans-serif").attr("font-weight", "bold")
  .attr("font-size", 22).attr("fill", "#000080").text(d => d);

// ---------------- FILLS ----------------
const defs = svg.append("defs");
function rightOf(id, data, xs) {
  defs.append("clipPath").attr("id", id).append("path")
    .attr("d", d3.area().y(d => y(d[0])).x0(d => xs(d[1])).x1(W)(data));
}
rightOf("clipBS", bsData, xCALI);
svg.append("path")
  .attr("d", d3.area().y(d => y(d[0])).x0(0).x1(d => xCALI(d[1]))(caliData))
  .attr("fill", "#c0c0c0").attr("clip-path", "url(#clipBS)");
rightOf("clipRHOB", rhobData, xRHOB);
svg.append("path")
  .attr("d", d3.area().y(d => y(d[0])).x0(0).x1(d => xNPHI(d[1]))(nphiData))
  .attr("fill", "#ffff9e").attr("clip-path", "url(#clipRHOB)");

// ---------------- CURVES ----------------
function curve(data, xs, color, width, dash, extra) {
  const p = svg.append("path")
    .attr("d", d3.line().x(d => xs(d[1])).y(d => y(d[0]))(data))
    .attr("fill", "none").attr("stroke", color).attr("stroke-width", width)
    .attr("stroke-linejoin", "miter").attr("stroke-miterlimit", 3);
  if (dash) p.attr("stroke-dasharray", dash);
  if (extra) extra(p);
  return p;
}
// Track 1
curve(bsData, xCALI, "#804000", 3, "2,2");
curve(caliData, xCALI, "#000", 3.2, "8,5");
curve(cgrData, xGR, "#00ffff", 2.8);
curve(grData, xGR, "#ff0000", 4);
// Track 2
curve(resMicro, xRes, "#000", 1.6);
curve(resDeep, xRes, "#00ffff", 5, "9,4");
curve(resDeep, xRes, "#ff0000", 3.2, "4,9", p => p.attr("stroke-dashoffset", -9));
// Track 3
curve(dtData, xDT, "#ff00ff", 3, "8,5");
curve(rhobData, xRHOB, "#ff0000", 4.2);
curve(peData, xPE, "#000", 3.2, "2.5,4");
curve(nphiData, xNPHI, "#0000ff", 4.5, "4.5,4.5");
curve(spData, xSP, "#ff8000", 2.8);
curve(thData, xTH, "#00ff00", 2.8);
curve(uData, xU, "#00ffff", 2.8);
</script></body></html>
